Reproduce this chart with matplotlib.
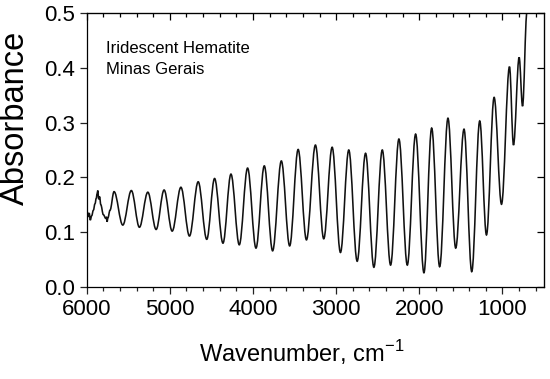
import matplotlib
matplotlib.use("Agg")
import matplotlib.pyplot as plt
from matplotlib.path import Path
from matplotlib.patches import PathPatch
from matplotlib.ticker import MultipleLocator

plt.rcParams["font.family"] = ["Liberation Sans", "DejaVu Sans"]

# extrema (and a few noisy points at the start)
wavenumber = [
    5993, 5982, 5970, 5957, 5940, 5920, 5900, 5885, 5875, 5867, 5855, 5845,
    5830, 5800, 5770, 5760, 5755, 5745, 5720, 5671, 5566, 5463, 5366, 5265,
    5165, 5069, 4972, 4867, 4764, 4659, 4556, 4462, 4361, 4265, 4165, 4065,
    3964, 3864, 3764, 3659, 3559, 3457, 3357, 3249, 3149, 3048, 2948, 2848,
    2747, 2646, 2546, 2445, 2345, 2245, 2144, 2044, 1944, 1851, 1755, 1655,
    1562, 1462, 1369, 1273, 1192, 1100, 1011, 915, 867, 799, 758, 706, 690,
]
absorbance = [
    0.137, 0.128, 0.135, 0.122, 0.130, 0.140, 0.152, 0.162, 0.170, 0.176,
    0.160, 0.165, 0.150, 0.132, 0.125, 0.128, 0.119, 0.126, 0.140, 0.174,
    0.113, 0.176, 0.109, 0.173, 0.105, 0.177, 0.102, 0.182, 0.093, 0.192,
    0.087, 0.198, 0.080, 0.206, 0.077, 0.217, 0.071, 0.221, 0.066, 0.230,
    0.075, 0.251, 0.086, 0.259, 0.088, 0.255, 0.063, 0.250, 0.047, 0.244,
    0.036, 0.250, 0.040, 0.270, 0.040, 0.279, 0.026, 0.290, 0.037, 0.308,
    0.071, 0.288, 0.028, 0.303, 0.095, 0.346, 0.151, 0.402, 0.259, 0.419,
    0.330, 0.500, 0.540,
]

fig = plt.figure(figsize=(5.5, 3.79), dpi=100)
ax = fig.add_axes([86.7 / 550, 1 - 287 / 379, (544 - 86.7) / 550, (287 - 13) / 379])

# smooth the trace between the read extrema with flat-topped cubic segments
verts = [(wavenumber[0], absorbance[0])]
codes = [Path.MOVETO]
for (x0, y0), (x1, y1) in zip(zip(wavenumber, absorbance), zip(wavenumber[1:], absorbance[1:])):
    dx = (x1 - x0) * 0.36
    verts += [(x0 + dx, y0), (x1 - dx, y1), (x1, y1)]
    codes += [Path.CURVE4] * 3
ax.add_patch(PathPatch(Path(verts, codes), facecolor="none", edgecolor="#111111", lw=1.15))

ax.set_xlim(6000, 500)
ax.set_ylim(0, 0.5)
ax.xaxis.set_major_locator(MultipleLocator(1000))
ax.xaxis.set_minor_locator(MultipleLocator(200))
ax.yaxis.set_major_locator(MultipleLocator(0.1))
ax.yaxis.set_major_formatter(plt.FormatStrFormatter("%.1f"))

ax.tick_params(axis="both", which="both", labelsize=16, width=0.9, color="#222222", direction="out")
ax.tick_params(axis="both", which="major", length=5)
ax.tick_params(axis="both", which="minor", length=3)

# inward ticks on the top and right spines
ax2 = ax.secondary_xaxis("top")
ax2.xaxis.set_major_locator(MultipleLocator(1000))
ax2.xaxis.set_minor_locator(MultipleLocator(200))
ax2.tick_params(which="both", direction="in", labeltop=False, width=0.9)
ax2.tick_params(which="major", length=5)
ax2.tick_params(which="minor", length=3)
ax3 = ax.secondary_yaxis("right")
ax3.yaxis.set_major_locator(MultipleLocator(0.1))
ax3.tick_params(direction="in", labelright=False, length=5, width=0.9)
for s in ax.spines.values():
    s.set_linewidth(0.9)

ax.set_xlabel("Wavenumber, cm$^{\\mathregular{-1}}$", fontsize=17)
ax.xaxis.set_label_coords(0.471, -0.241)
ax.xaxis.label.set_verticalalignment("center")
ax.set_ylabel("Absorbance", fontsize=23.5)
ax.yaxis.set_label_coords(-0.155, 0.619)
ax.yaxis.label.set_verticalalignment("center")

ax.text(0.042, 0.853, "Iridescent Hematite", transform=ax.transAxes, fontsize=12)
ax.text(0.042, 0.776, "Minas Gerais", transform=ax.transAxes, fontsize=12)

fig.savefig("out.png", dpi=100)
